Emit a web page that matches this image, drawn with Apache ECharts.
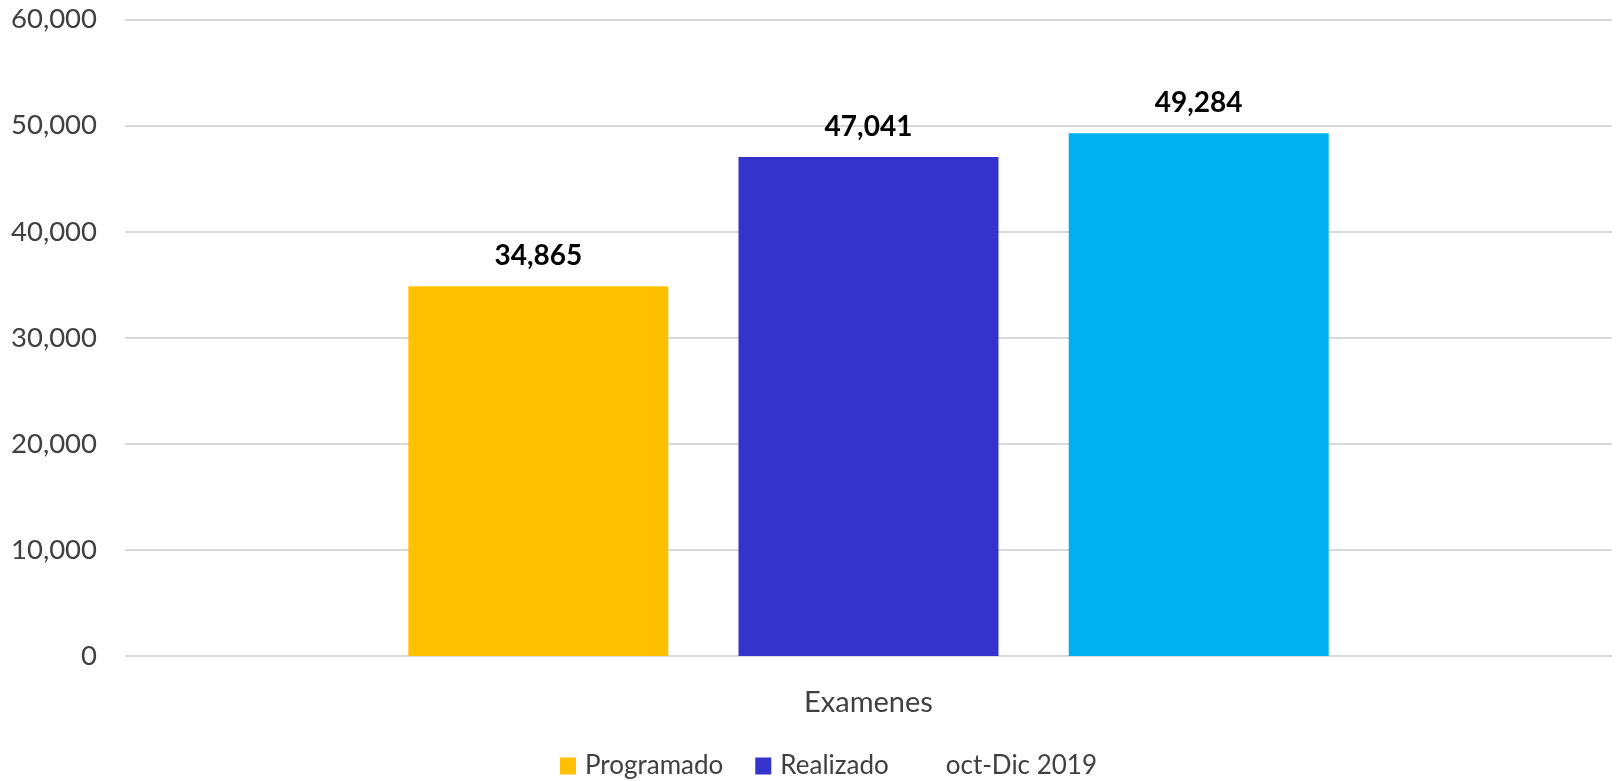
<!DOCTYPE html>
<html><head><meta charset="utf-8">
<script src="https://cdn.jsdelivr.net/npm/echarts@6/dist/echarts.min.js"></script>
<style>html,body{margin:0;padding:0;background:#fff}#c{width:1616px;height:781px}</style>
</head><body><div id="c"></div>
<script>
const categories = ['Examenes'];
const seriesNames = ['Programado', 'Realizado', 'oct-Dic 2019'];
const programado = [34865];
const realizado = [47041];
const octDic2019 = [49284];
const yTicks = [0, 10000, 20000, 30000, 40000, 50000, 60000];

const colors = ['#FFC000', '#3433CC', '#00B0F0'];
const fmt = v => v.toLocaleString('en-US');
const font = 'Lato, "Open Sans", sans-serif';
const values = [programado, realizado, octDic2019];

const chart = echarts.init(document.getElementById('c'));
chart.setOption({
  animation: false,
  textStyle: { fontFamily: font },
  grid: { left: 125, right: 4, top: 19.5, bottom: 125 },
  legend: {
    left: 560, top: 753, padding: 0,
    itemWidth: 16, itemHeight: 17, itemGap: 32,
    icon: 'rect',
    textStyle: { fontFamily: font, fontSize: 26, color: '#404040', padding: [0, 0, 0, 4] },
    data: [
      { name: seriesNames[0] },
      { name: seriesNames[1] },
      { name: seriesNames[2], itemStyle: { color: 'rgba(0,0,0,0)' } }
    ]
  },
  xAxis: {
    type: 'category', data: categories,
    axisLine: { show: false }, axisTick: { show: false },
    axisLabel: { fontFamily: font, fontSize: 29, color: '#404040', margin: 32 }
  },
  yAxis: {
    type: 'value', min: yTicks[0], max: yTicks[yTicks.length - 1], interval: 10000,
    axisLine: { show: false }, axisTick: { show: false },
    splitLine: { lineStyle: { color: '#D9D9D9', width: 2 } },
    axisLabel: { fontFamily: font, fontSize: 27.5, color: '#404040', margin: 28, formatter: fmt }
  },
  series: seriesNames.map((n, i) => ({
    name: n, type: 'bar', data: values[i],
    barWidth: 260, barGap: '27%',
    itemStyle: { color: colors[i] },
    label: {
      show: true, position: 'top', distance: 16,
      fontFamily: font, fontSize: 28, fontWeight: 'bold', color: '#000',
      formatter: p => fmt(p.value)
    }
  }))
});
</script></body></html>
